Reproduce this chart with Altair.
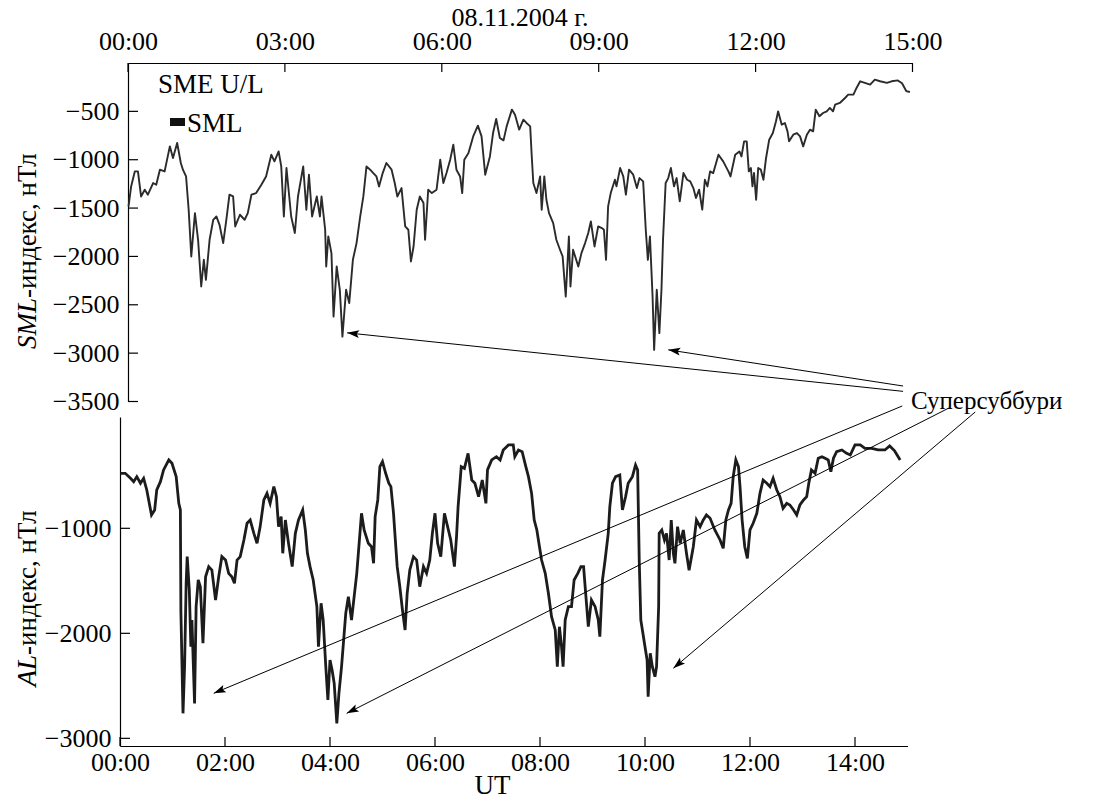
import math
import altair as alt
import pandas as pd

# SML index (SuperMAG), 08.11.2004, UT hours / nT
SML_HOURS = [0.01, 0.06, 0.13, 0.19, 0.25, 0.32, 0.38, 0.48, 0.54, 0.61, 0.70, 0.80, 0.86, 0.94,
             1.01, 1.05, 1.11, 1.16, 1.21, 1.28, 1.34, 1.40, 1.45, 1.49, 1.56, 1.63, 1.69, 1.75,
             1.82, 1.88, 1.94, 2.01, 2.05, 2.14, 2.23, 2.29, 2.36, 2.45, 2.55, 2.64, 2.74, 2.80,
             2.88, 2.93, 2.98, 3.03, 3.12, 3.19, 3.25, 3.35, 3.41, 3.46, 3.52, 3.61, 3.67, 3.70,
             3.77, 3.79, 3.83, 3.89, 3.93, 3.99, 4.05, 4.10, 4.17, 4.23, 4.30, 4.37, 4.44, 4.50,
             4.56, 4.63, 4.69, 4.75, 4.80, 4.87, 4.94, 5.04, 5.10, 5.15, 5.23, 5.30, 5.36, 5.41,
             5.46, 5.52, 5.58, 5.65, 5.68, 5.74, 5.81, 5.90, 5.97, 6.03, 6.09, 6.16, 6.22, 6.28,
             6.35, 6.39, 6.43, 6.51, 6.60, 6.69, 6.76, 6.83, 6.92, 6.98, 7.04, 7.11, 7.18, 7.24,
             7.34, 7.40, 7.48, 7.56, 7.62, 7.69, 7.72, 7.75, 7.81, 7.88, 7.91, 7.96, 8.00, 8.05,
             8.13, 8.19, 8.26, 8.31, 8.37, 8.43, 8.46, 8.51, 8.61, 8.67, 8.74, 8.80, 8.85, 8.92,
             8.99, 9.06, 9.10, 9.14, 9.18, 9.23, 9.31, 9.34, 9.41, 9.47, 9.52, 9.58, 9.66, 9.73,
             9.78, 9.85, 9.90, 9.94, 9.98, 10.03, 10.06, 10.11, 10.16, 10.20, 10.23, 10.28, 10.33,
             10.38, 10.44, 10.49, 10.55, 10.62, 10.69, 10.75, 10.81, 10.86, 10.92, 10.98, 11.03,
             11.08, 11.13, 11.19, 11.29, 11.38, 11.48, 11.52, 11.61, 11.69, 11.73, 11.78, 11.83,
             11.87, 11.91, 11.94, 11.97, 12.01, 12.05, 12.10, 12.15, 12.20, 12.26, 12.33, 12.39,
             12.43, 12.50, 12.56, 12.61, 12.64, 12.72, 12.79, 12.85, 12.91, 12.98, 13.04, 13.10,
             13.15, 13.22, 13.29, 13.36, 13.42, 13.48, 13.52, 13.61, 13.71, 13.77, 13.87, 13.93,
             14.00, 14.09, 14.19, 14.28, 14.38, 14.51, 14.60, 14.72, 14.80, 14.88, 14.95]
SML_NT = [-1483, -1276, -1121, -1121, -1380, -1310, -1362, -1241, -1259, -1103, -1121, -862, -982, -827,
          -1034, -1103, -1173, -1517, -2000, -1552, -1828, -2311, -2035, -2242, -1828, -1621, -1586, -1673,
          -1862, -1621, -1362, -1380, -1690, -1569, -1621, -1552, -1362, -1345, -1259, -1173, -948, -1017,
          -914, -1069, -1587, -1086, -1587, -1758, -1380, -1069, -1517, -1155, -1587, -1380, -1587, -1380,
          -1724, -2104, -1793, -1966, -2622, -2104, -2345, -2829, -2345, -2483, -2035, -1862, -1587, -1380,
          -1069, -1103, -1138, -1173, -1276, -1138, -1034, -1103, -1241, -1380, -1293, -1690, -1724, -2052,
          -1897, -1517, -1380, -1448, -1828, -1310, -1345, -1310, -1000, -1241, -1138, -1000, -845, -1103,
          -1173, -1345, -1000, -931, -759, -648, -759, -1155, -966, -724, -579, -775, -800, -655,
          -482, -534, -689, -586, -620, -655, -966, -1241, -1345, -1173, -1517, -1173, -1414, -1552,
          -1655, -1828, -1931, -2000, -2415, -1793, -2311, -1931, -2104, -1966, -1862, -1758, -1638, -1897,
          -1690, -1707, -1724, -2035, -1483, -1345, -1207, -1276, -1086, -1173, -1362, -1103, -1155, -1293,
          -1190, -1224, -1724, -2035, -1793, -2415, -2966, -2345, -2793, -2345, -1828, -1241, -1190,
          -1086, -1276, -1190, -1431, -1138, -1207, -1224, -1293, -1396, -1310, -1517, -1207,
          -1276, -1121, -1138, -948, -1017, -1121, -1173, -948, -914, -966, -810, -810,
          -1121, -1086, -1276, -1138, -1414, -1086, -1103, -1207, -982, -793, -724, -603,
          -500, -638, -620, -707, -810, -741, -724, -759, -862, -741, -689, -707,
          -482, -551, -517, -500, -465, -500, -431, -413, -362, -327, -327, -258,
          -189, -206, -224, -172, -189, -206, -189, -180, -210, -290, -300]

# AL index, same day
AL_HOURS = [0.01, 0.10, 0.20, 0.26, 0.32, 0.39, 0.45, 0.51, 0.60, 0.66, 0.70, 0.77, 0.83, 0.93, 0.99,
            1.07, 1.12, 1.15, 1.16, 1.20, 1.23, 1.26, 1.28, 1.32, 1.35, 1.37, 1.42, 1.45, 1.49, 1.53,
            1.58, 1.63, 1.69, 1.75, 1.82, 1.88, 1.94, 2.01, 2.07, 2.13, 2.18, 2.23, 2.29, 2.36, 2.42,
            2.48, 2.55, 2.61, 2.67, 2.74, 2.80, 2.86, 2.93, 2.98, 3.02, 3.07, 3.10, 3.15, 3.21, 3.28,
            3.34, 3.40, 3.48, 3.53, 3.57, 3.62, 3.68, 3.75, 3.78, 3.83, 3.87, 3.92, 3.96, 4.00, 4.04,
            4.08, 4.13, 4.17, 4.22, 4.27, 4.30, 4.35, 4.41, 4.46, 4.51, 4.55, 4.60, 4.65, 4.73, 4.79,
            4.83, 4.86, 4.91, 4.95, 5.00, 5.06, 5.12, 5.16, 5.21, 5.24, 5.28, 5.33, 5.38, 5.43, 5.47,
            5.52, 5.59, 5.65, 5.71, 5.78, 5.84, 5.90, 5.95, 6.00, 6.05, 6.11, 6.18, 6.24, 6.30, 6.37,
            6.41, 6.44, 6.50, 6.56, 6.63, 6.70, 6.76, 6.83, 6.90, 6.97, 7.00, 7.08, 7.17, 7.24, 7.30,
            7.40, 7.49, 7.52, 7.59, 7.66, 7.73, 7.78, 7.84, 7.89, 7.94, 7.99, 8.03, 8.10, 8.16, 8.22,
            8.29, 8.33, 8.37, 8.41, 8.44, 8.48, 8.54, 8.60, 8.65, 8.72, 8.78, 8.83, 8.87, 8.92, 8.98,
            9.05, 9.11, 9.14, 9.19, 9.24, 9.30, 9.33, 9.38, 9.44, 9.52, 9.57, 9.63, 9.68, 9.76, 9.82,
            9.86, 9.89, 9.92, 9.96, 10.00, 10.04, 10.06, 10.10, 10.14, 10.19, 10.22, 10.26, 10.27,
            10.32, 10.37, 10.41, 10.46, 10.50, 10.54, 10.57, 10.62, 10.67, 10.73, 10.79, 10.84,
            10.92, 10.98, 11.05, 11.11, 11.17, 11.24, 11.33, 11.43, 11.49, 11.54, 11.59, 11.64,
            11.68, 11.73, 11.78, 11.81, 11.85, 11.90, 11.95, 12.00, 12.06, 12.13, 12.19, 12.25,
            12.32, 12.38, 12.44, 12.51, 12.57, 12.63, 12.70, 12.76, 12.83, 12.89, 12.95, 13.02,
            13.08, 13.12, 13.17, 13.24, 13.30, 13.37, 13.43, 13.49, 13.54, 13.59, 13.65, 13.75,
            13.84, 13.91, 14.00, 14.10, 14.19, 14.32, 14.44, 14.57, 14.66, 14.75, 14.86]
AL_NT = [-476, -476, -524, -556, -508, -571, -524, -635, -873, -825, -635, -556, -444, -349, -381,
         -508, -762, -825, -1794, -2762, -2318, -1524, -1270, -1587, -2127, -1873, -2667, -1746, -1492, -1556,
         -2095, -1461, -1365, -1397, -1683, -1461, -1270, -1302, -1429, -1461, -1524, -1302, -1270, -1111, -952,
         -921, -1048, -1143, -984, -730, -667, -762, -603, -699, -984, -889, -1238, -921, -1143, -1365,
         -1048, -921, -825, -1016, -1238, -1365, -1492, -1746, -2127, -1714, -1873, -2318, -2635, -2254, -2350,
         -2476, -2857, -2571, -2318, -2000, -1810, -1651, -1873, -1651, -1429, -1175, -857, -1016, -1143, -1175,
         -1333, -889, -730, -413, -365, -476, -571, -603, -857, -1080, -1365, -1556, -1778, -1968, -1619,
         -1397, -1270, -1302, -1556, -1365, -1429, -1302, -1048, -857, -1143, -1270, -857, -984, -1111, -1365,
         -1080, -794, -413, -429, -286, -540, -571, -699, -540, -762, -444, -349, -318, -349, -254,
         -206, -206, -318, -254, -270, -413, -508, -667, -921, -1016, -1175, -1302, -1429, -1619, -1841,
         -1968, -2318, -1937, -2127, -2318, -1873, -1746, -1746, -1492, -1429, -1365, -1365, -1619, -1937, -1683,
         -1746, -1873, -2032, -1492, -1302, -1048, -794, -571, -508, -492, -825, -699, -571, -508, -397,
         -444, -1302, -1873, -2000, -2127, -2254, -2603, -2190, -2318, -2413, -2318, -1746, -1048,
         -1016, -1111, -1048, -1302, -921, -1238, -1333, -984, -1143, -1016, -1238, -1400,
         -1175, -921, -984, -921, -873, -905, -1016, -1111, -1190, -921, -825, -762,
         -508, -349, -413, -603, -921, -1175, -1286, -1016, -952, -857, -667, -540,
         -571, -603, -524, -635, -699, -810, -762, -778, -825, -873, -778, -730,
         -699, -571, -444, -476, -333, -318, -333, -349, -460, -333, -270, -254,
         -286, -302, -206, -206, -238, -238, -254, -254, -216, -260, -349]

# axis tick values
TOP_TIME_TICKS = [0, 3, 6, 9, 12, 15]
SML_TICKS = [-500, -1000, -1500, -2000, -2500, -3000, -3500]
BOTTOM_TIME_TICKS = [0, 2, 4, 6, 8, 10, 12, 14]
AL_TICKS = [-1000, -2000, -3000]

# supersubstorm pointers: arrow tip at the minimum, tail at the label
SML_TIP_H = [4.19, 10.33]
SML_TIP_NT = [-2790, -2966]
SML_TAIL_H = [14.82, 14.82]
SML_TAIL_NT = [-3395, -3340]
AL_TIP_H = [1.785, 4.318, 10.54]
AL_TIP_NT = [-2571, -2762, -2333]
AL_TAIL_H = [14.90, 15.79, 16.29]
AL_TAIL_NT = [165, 146, 108]
LABEL_H = 14.97
LABEL_NT = -3580
LABEL_TEXT = "Суперсуббури"

# ---------------------------------------------------------------- layout
W, H = 793, 683
SERIF = "Liberation Serif"
FS = 26      # tick labels
FS_T = 27    # titles, legend
TOP_X_DOM, TOP_X_RNG = [0, 15], [8, 792.5]
TOP_Y_DOM, TOP_Y_RNG = [-3500, 0], [338.5, 0]
BOT_X_DOM, BOT_X_RNG = [0, 15], [0, 787.5]
BOT_Y_DOM, BOT_Y_RNG = [-3073, 60], [683, 354]


def lin(v, dom, rng):
    return rng[0] + (v - dom[0]) / (dom[1] - dom[0]) * (rng[1] - rng[0])


def arrow_table(tip_h, tip_v, tail_h, tail_v, xd, xr, yd, yr):
    rows = []
    for th, tv, sh, sv in zip(tip_h, tip_v, tail_h, tail_v):
        dx = lin(th, xd, xr) - lin(sh, xd, xr)
        dy = lin(tv, yd, yr) - lin(sv, yd, yr)
        ang = (math.degrees(math.atan2(dx, -dy)) + 360) % 360
        rows.append({"h": th, "v": tv, "h2": sh, "v2": sv, "ang": ang})
    return pd.DataFrame(rows)


def scale(dom, rng):
    return alt.Scale(domain=dom, range=rng, nice=False, zero=False)


hour_label = "(datum.value < 10 ? '0' : '') + datum.value + ':00'"
axis_common = dict(ticks=False, grid=False, labelFont=SERIF, labelFontSize=FS,
                   labelColor="black", domainColor="black", domainWidth=1.2,
                   labelFlush=False, labelOverlap=False)

top_x_axis = alt.Axis(orient="top", values=TOP_TIME_TICKS, labelExpr=hour_label,
                      labelPadding=9, title=None, **axis_common)
top_y_axis = alt.Axis(orient="left", offset=-8, values=SML_TICKS, format="d",
                      labelPadding=9, title=None, **axis_common)
bot_x_axis = alt.Axis(orient="bottom", values=BOTTOM_TIME_TICKS, labelExpr=hour_label,
                      labelPadding=3, title="UT", titleFont=SERIF, titleFontSize=FS_T,
                      titleFontWeight="normal", titleColor="black", titleX=372, titleY=47,
                      titleBaseline="alphabetic", titleAlign="center", **axis_common)
bot_y_axis = alt.Axis(orient="left", values=AL_TICKS, format="d", labelPadding=9,
                      title=None, **axis_common)

ARROW = "M0,0L-0.33,1L0,0.8L0.33,1Z"


def panel_layers(df, x_dom, x_rng, y_dom, y_rng, x_axis, y_axis, line_style,
                 y_ticks, x_ticks, y_tick_px, x_tick_px, arrows):
    xs, ys = scale(x_dom, x_rng), scale(y_dom, y_rng)

    def X(f, axis=None):
        return alt.X(f, scale=xs, axis=axis)

    def Y(f, axis=None):
        return alt.Y(f, scale=ys, axis=axis)

    line = alt.Chart(df).mark_line(**line_style).encode(
        x=X("h:Q", x_axis), y=Y("v:Q", y_axis))
    yt = alt.Chart(pd.DataFrame({"v": y_ticks})).mark_rule(color="black", strokeWidth=1.2).encode(
        y=Y("v:Q"), x=alt.value(y_tick_px[0]), x2=alt.value(y_tick_px[1]))
    xt = alt.Chart(pd.DataFrame({"h": x_ticks})).mark_rule(color="black", strokeWidth=1.2).encode(
        x=X("h:Q"), y=alt.value(x_tick_px[0]), y2=alt.value(x_tick_px[1]))
    a_lines = alt.Chart(arrows).mark_rule(color="black", strokeWidth=1).encode(
        x=X("h:Q"), y=Y("v:Q"), x2="h2:Q", y2="v2:Q")
    a_heads = alt.Chart(arrows).mark_point(
        shape=ARROW, filled=True, size=576, color="black", opacity=1, strokeWidth=0).encode(
        x=X("h:Q"), y=Y("v:Q"), angle=alt.Angle("ang:Q", scale=None))
    return [line, yt, xt, a_lines, a_heads], X, Y


# ---------------------------------------------------------------- SML panel
sml_arrows = arrow_table(SML_TIP_H, SML_TIP_NT, SML_TAIL_H, SML_TAIL_NT,
                         TOP_X_DOM, TOP_X_RNG, TOP_Y_DOM, TOP_Y_RNG)
top_layers, TX, TY = panel_layers(
    pd.DataFrame({"h": SML_HOURS, "v": SML_NT}), TOP_X_DOM, TOP_X_RNG, TOP_Y_DOM, TOP_Y_RNG,
    top_x_axis, top_y_axis, dict(color="#2b2b2b", strokeWidth=1.9, strokeJoin="round"),
    SML_TICKS, TOP_TIME_TICKS, (8, 18), (0, 9), sml_arrows)
label = alt.Chart(pd.DataFrame({"h": [LABEL_H], "v": [LABEL_NT], "t": [LABEL_TEXT]})).mark_text(
    align="left", baseline="alphabetic", font=SERIF, fontSize=25, color="black").encode(
    x=TX("h:Q"), y=TY("v:Q"), text="t:N")
top_layers.append(label)

# ---------------------------------------------------------------- AL panel
al_arrows = arrow_table(AL_TIP_H, AL_TIP_NT, AL_TAIL_H, AL_TAIL_NT,
                        BOT_X_DOM, BOT_X_RNG, BOT_Y_DOM, BOT_Y_RNG)
bottom_layers, _, _ = panel_layers(
    pd.DataFrame({"h": AL_HOURS, "v": AL_NT}), BOT_X_DOM, BOT_X_RNG, BOT_Y_DOM, BOT_Y_RNG,
    bot_x_axis, bot_y_axis, dict(color="#1c1c1c", strokeWidth=2.8, strokeJoin="miter"),
    AL_TICKS, BOTTOM_TIME_TICKS, (0, 10), (H, H - 9), al_arrows)

# ---------------------------------------------------------------- titles and legend
one = pd.DataFrame({"a": [0]})


def note(text, x, y, **kw):
    opts = dict(font=SERIF, fontSize=FS_T, color="black", align="left", baseline="alphabetic")
    opts.update(kw)
    return alt.Chart(one).mark_text(text=text, **opts).encode(x=alt.value(x), y=alt.value(y))


notes = [
    note("08.11.2004 г.", 400, -37, align="center", fontSize=FS),
    note("SME U/L", 38, 30),
    alt.Chart(one).mark_rect(color="#111111").encode(
        x=alt.value(50), x2=alt.value(65), y=alt.value(55), y2=alt.value(63)),
    note("SML", 67, 69),
    note("SML", -92, 235, angle=270, align="right", baseline="middle", fontStyle="italic"),
    note("-индекс, нТл", -92, 235, angle=270, align="left", baseline="middle"),
    note("AL", -92, 592, angle=270, align="right", baseline="middle", fontStyle="italic"),
    note("-индекс, нТл", -92, 592, angle=270, align="left", baseline="middle"),
]

chart = alt.layer(*top_layers, *bottom_layers, *notes).resolve_scale(
    x="independent", y="independent"
).properties(
    width=W, height=H,
    autosize=alt.AutoSizeParams(type="none"),
    padding={"left": 120, "top": 63, "right": 182, "bottom": 53},
    background="white",
).configure_view(stroke=None)

chart.save("out.html", embed_options={"renderer": "svg", "actions": False})
